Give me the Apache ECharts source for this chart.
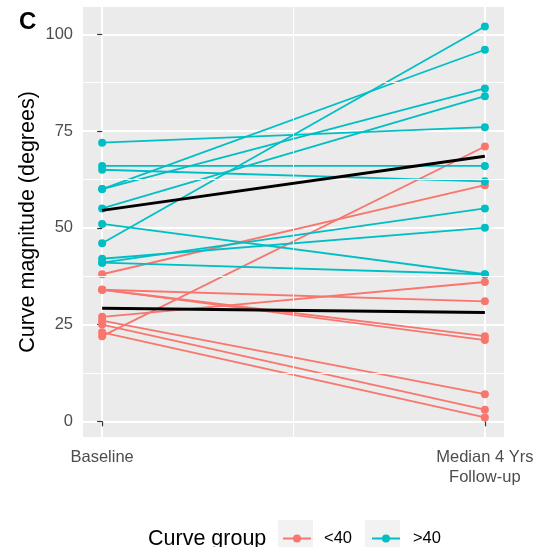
<!DOCTYPE html>
<html>
<head>
<meta charset="utf-8">
<script src="https://cdn.jsdelivr.net/npm/echarts@6/dist/echarts.min.js"></script>
<style>
html,body{margin:0;padding:0;background:#fff;}
#chart{width:539px;height:547px;}
</style>
</head>
<body>
<div id="chart"></div>
<script>
// x positions: 0 = Baseline, 4 = Median 4 Yrs Follow-up
var timePoints = [0, 4];
var xTickLabels = ['Baseline', 'Median 4 Yrs\nFollow-up'];
var yTickValues = [0, 25, 50, 75, 100];
var xMinorValues = [2];
var yMinorValues = [12.5, 37.5, 62.5, 87.5];

// Curve group <40
var lowBaseline = [38, 22, 34, 34, 34, 27, 26, 25, 23];
var lowFollowUp = [61, 71, 31, 22, 21, 36, 7, 3, 1];
// Curve group >40
var highBaseline = [46, 60, 60, 55, 72, 66, 65, 51, 42, 41, 41];
var highFollowUp = [102, 96, 86, 84, 76, 66, 62, 38, 50, 55, 38];
// group mean lines
var lowMean = [29.2, 28.1];
var highMean = [54.5, 68.5];

var groupNames = ['<40', '>40'];
var groupColors = ['#F8766D', '#00BFC4'];

var FONT = '"Liberation Sans", Arial, sans-serif';

var series = [];
// minor grid lines (drawn via library scales)
var minorData = [];
xMinorValues.forEach(function (v) { minorData.push({ xAxis: v }); });
yMinorValues.forEach(function (v) { minorData.push({ yAxis: v }); });
series.push({
  name: 'grid-minor', type: 'line', data: [], z: 1, silent: true,
  markLine: {
    silent: true, symbol: ['none', 'none'], label: { show: false },
    lineStyle: { color: '#ffffff', width: 1, type: 'solid' },
    animation: false, data: minorData
  }
});

function addGroup(base, follow, gi) {
  for (var i = 0; i < base.length; i++) {
    series.push({
      name: groupNames[gi], type: 'line', z: 3,
      data: [[timePoints[0], base[i]], [timePoints[1], follow[i]]],
      symbol: 'circle', symbolSize: 8, showSymbol: true,
      itemStyle: { color: groupColors[gi] },
      lineStyle: { color: groupColors[gi], width: 1.8 },
      emphasis: { disabled: true }, animation: false
    });
  }
}
addGroup(lowBaseline, lowFollowUp, 0);
addGroup(highBaseline, highFollowUp, 1);

[lowMean, highMean].forEach(function (m) {
  series.push({
    name: 'mean', type: 'line', z: 5,
    data: [[timePoints[0], m[0]], [timePoints[1], m[1]]],
    symbol: 'none', lineStyle: { color: '#000000', width: 3 },
    emphasis: { disabled: true }, animation: false
  });
});

var chart = echarts.init(document.getElementById('chart'), null, { renderer: 'canvas' });
chart.setOption({
  animation: false,
  backgroundColor: '#ffffff',
  title: {
    text: 'C', left: 14, top: 5,
    textStyle: { fontFamily: FONT, fontSize: 24, fontWeight: 'bold', color: '#000' }
  },
  grid: {
    left: 83, right: 35, top: 7, bottom: 110,
    show: true, backgroundColor: '#EBEBEB', borderWidth: 0
  },
  xAxis: {
    type: 'value', min: -0.2, max: 4.2,
    axisLine: { show: false },
    axisTick: { show: true, customValues: timePoints, length: 5, lineStyle: { color: '#333333', width: 1.2 } },
    axisLabel: {
      customValues: timePoints,
      formatter: function (v) { return xTickLabels[timePoints.indexOf(v)]; },
      fontFamily: FONT, fontSize: 16.5, color: '#4D4D4D', lineHeight: 20, margin: 10, align: 'center'
    },
    splitLine: { show: true, lineStyle: { color: '#ffffff', width: 2 } }
  },
  yAxis: {
    type: 'value', min: -4.05, max: 107.05,
    name: 'Curve magnitude (degrees)', nameLocation: 'middle', nameRotate: 90, nameGap: 44,
    nameMoveOverlap: false,
    nameTextStyle: { fontFamily: FONT, fontSize: 21.5, color: '#000' },
    axisLine: { show: false },
    axisTick: { show: true, customValues: yTickValues, length: 5, lineStyle: { color: '#333333', width: 1.2 } },
    axisLabel: {
      customValues: yTickValues,
      fontFamily: FONT, fontSize: 16.5, color: '#4D4D4D', margin: 10
    },
    splitLine: { show: true, lineStyle: { color: '#ffffff', width: 2 } }
  },
  legend: {
    data: groupNames, left: 282, top: 530, padding: 0, orient: 'horizontal',
    itemWidth: 28, itemHeight: 10, itemGap: 19,
    textStyle: { fontFamily: FONT, fontSize: 16.5, color: '#000', padding: [0, 0, 0, 8] },
    selectedMode: false
  },
  graphic: [
    { type: 'text', left: 148, top: 528, z: 10,
      style: { text: 'Curve group', fontFamily: FONT, fontSize: 21.5, fill: '#000' } },
    { type: 'rect', shape: { x: 278, y: 520, width: 35, height: 35 }, style: { fill: '#F2F2F2' }, z: -1 },
    { type: 'rect', shape: { x: 365, y: 520, width: 35, height: 35 }, style: { fill: '#F2F2F2' }, z: -1 }
  ],
  series: series
});
</script>
</body>
</html>
